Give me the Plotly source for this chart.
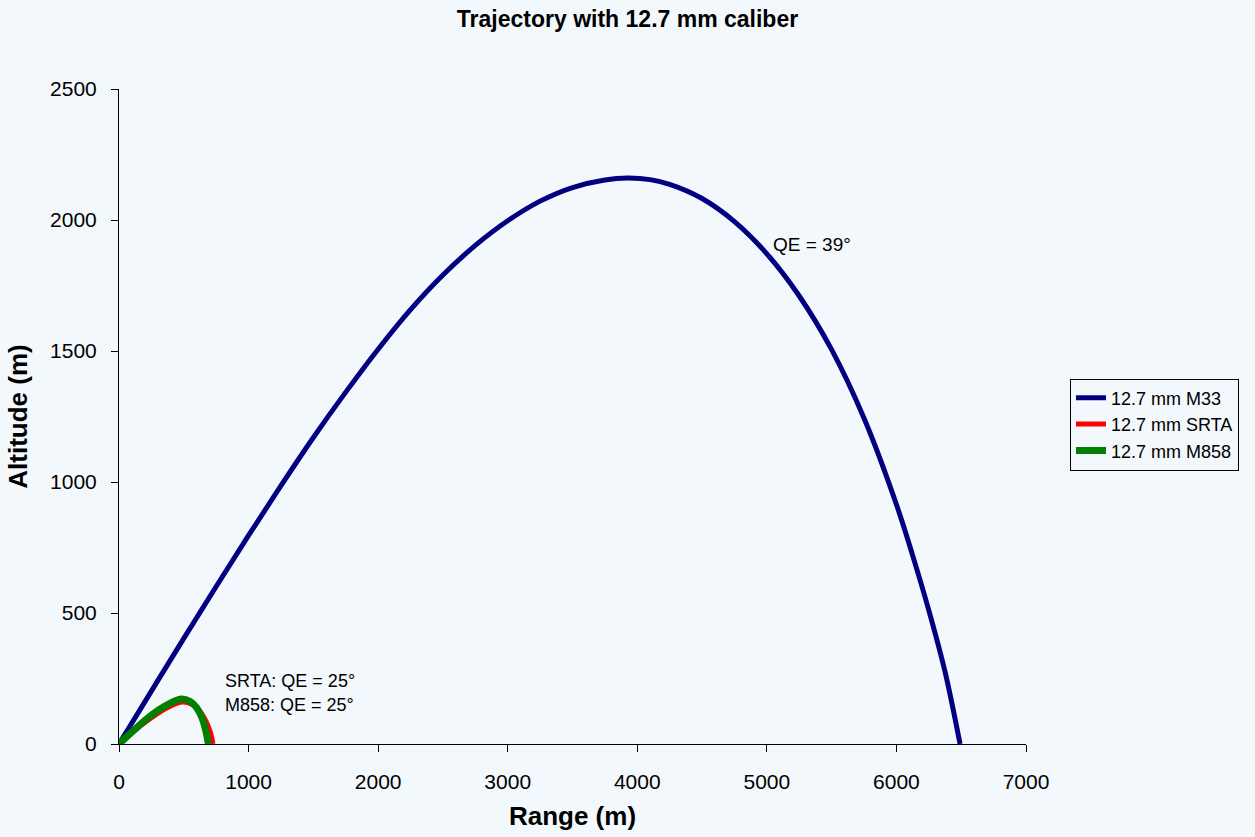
import plotly.graph_objects as go

# M33 trajectory (range m, altitude m)
m33_x = [0, 250, 500, 750, 1000, 1250, 1500, 1750, 2000, 2250, 2500, 2750, 3000, 3250, 3500, 3750, 3930,
         4100, 4250, 4500, 4750, 5000, 5250, 5500, 5750, 6000, 6125, 6250, 6375, 6491]
m33_y = [0, 202, 403, 601, 796, 986, 1170, 1343, 1507, 1658, 1790, 1903, 1997, 2072, 2124, 2153, 2160,
         2154, 2136, 2082, 1994, 1871, 1710, 1505, 1243, 914, 720, 510, 276, 0]

# SRTA trajectory
srta_x = [0, 100, 200, 300, 400, 490, 560, 620, 670, 705, 725]
srta_y = [0, 42, 82, 117, 145, 160, 152, 128, 88, 45, 0]

# M858 trajectory
m858_x = [0, 100, 200, 300, 400, 480, 550, 600, 640, 670, 690]
m858_y = [0, 46, 90, 128, 157, 172, 162, 138, 100, 50, 0]

names = ["12.7 mm M33", "12.7 mm SRTA", "12.7 mm M858"]
colors = ["#000080", "#FF0000", "#008000"]
widths = [5, 5, 7]

FONT = "Arial, Liberation Sans, sans-serif"
BG = "#F3F8FC"

fig = go.Figure()
for xs, ys, n, c, w in zip([m33_x, srta_x, m858_x], [m33_y, srta_y, m858_y], names, colors, widths):
    fig.add_trace(go.Scatter(x=xs, y=ys, mode="lines", name=n,
                             line=dict(color=c, width=w, shape="spline", smoothing=1.0)))

fig.add_annotation(x=5030, y=1905, xref="x", yref="y", text="QE = 39°", showarrow=False,
                   xanchor="left", yanchor="middle", font=dict(family=FONT, size=19, color="black"))
fig.add_annotation(x=800, y=239, xref="x", yref="y", text="SRTA: QE = 25°", showarrow=False,
                   xanchor="left", yanchor="middle", font=dict(family=FONT, size=18, color="black"))
fig.add_annotation(x=800, y=148, xref="x", yref="y", text="M858: QE = 25°", showarrow=False,
                   xanchor="left", yanchor="middle", font=dict(family=FONT, size=18, color="black"))

fig.update_layout(
    width=1255, height=837,
    paper_bgcolor=BG, plot_bgcolor=BG,
    margin=dict(l=119, r=229, t=89, b=89),
    title=dict(text="<b>Trajectory with 12.7 mm caliber</b>", x=0.5, xref="container", xanchor="center",
               y=1 - 19 / 837, yref="container", yanchor="middle",
               font=dict(family=FONT, size=23, color="black")),
    font=dict(family=FONT, color="black"),
    showlegend=True,
    legend=dict(x=1.0485, y=0.558, xanchor="left", yanchor="top",
                bordercolor="black", borderwidth=1, bgcolor="rgba(0,0,0,0)",
                font=dict(family=FONT, size=18, color="black")),
    xaxis=dict(range=[0, 7000], tickvals=[0, 1000, 2000, 3000, 4000, 5000, 6000, 7000],
               showgrid=False, zeroline=False, showline=True, linecolor="black", linewidth=1,
               ticks="outside", ticklen=7, tickcolor="black", tickwidth=1,
               tickfont=dict(family=FONT, size=21, color="black"),
               ticklabelstandoff=12,
               title=dict(text="<b>Range (m)</b>", font=dict(family=FONT, size=26, color="black"), standoff=14)),
    yaxis=dict(range=[0, 2500], tickvals=[0, 500, 1000, 1500, 2000, 2500],
               showgrid=False, zeroline=False, showline=True, linecolor="black", linewidth=1,
               ticks="outside", ticklen=7, tickcolor="black", tickwidth=1,
               tickfont=dict(family=FONT, size=21, color="black"),
               ticklabelstandoff=10,
               title=dict(text="<b>Altitude (m)</b>", font=dict(family=FONT, size=26, color="black"), standoff=14)),
)

fig.write_html("out.html")
